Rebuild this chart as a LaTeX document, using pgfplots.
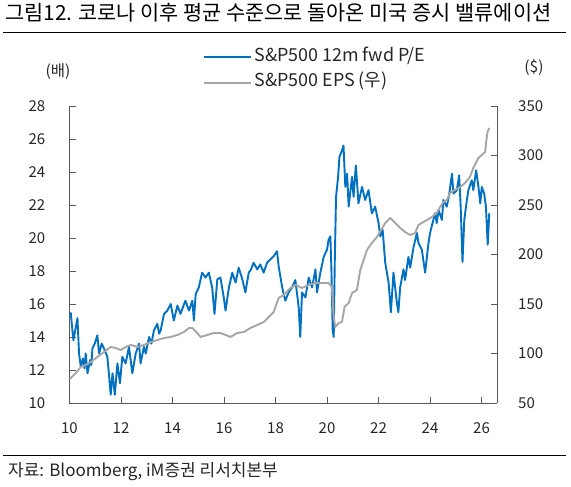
\documentclass[border=0pt]{standalone}
\usepackage{fontspec}
\setmainfont{Noto Sans CJK KR}
\usepackage{pgfplots}
\pgfplotsset{compat=1.18}
\definecolor{peblue}{HTML}{0070C0}
\definecolor{epsgray}{HTML}{A6A6A6}
\definecolor{axgray}{HTML}{595959}
\definecolor{labgray}{HTML}{262626}
\pgfplotsset{
  common/.style={
    at={(69.5pt,84pt)}, anchor=south west, scale only axis,
    width=427.5pt, height=297pt,
    xmin=10, xmax=26.6,
    tick align=inside, major tick length=6pt,
    axis line style={axgray, line width=0.9pt},
    major tick style={axgray, line width=0.9pt},
    every tick label/.append style={font=\fontsize{15}{18}\selectfont, text=labgray},
    /pgf/number format/assume math mode=true,
    clip=false,
  }
}
\begin{document}
\begin{tikzpicture}
\path[use as bounding box] (0pt,0pt) rectangle (571pt,487pt);
\node[anchor=west, inner sep=0pt, font=\fontsize{20.8}{24}\selectfont] at (5pt,474pt) {그림12. 코로나 이후 평균 수준으로 돌아온 미국 증시 밸류에이션};
\draw[line width=1pt] (3pt,454pt) -- (566pt,454pt);
\draw[line width=1pt] (3pt,31pt) -- (566pt,31pt);
\node[anchor=west, inner sep=0pt, font=\fontsize{17}{20}\selectfont, text=labgray] at (8pt,15pt) {자료: Bloomberg, iM증권 리서치본부};
\node[inner sep=0pt, font=\fontsize{15.5}{18}\selectfont, text=labgray] at (58pt,415.3pt) {(배)};
\node[inner sep=0pt, font=\fontsize{15.5}{18}\selectfont, text=labgray] at (534pt,419pt) {(\$)};

\begin{axis}[common,
  ymin=10, ymax=28,
  axis y line*=left, axis x line*=bottom,
  xtick={10,12,...,26}, ytick={10,12,...,28},
  xticklabel style={inner sep=0pt, anchor=north, yshift=-19.5pt},
  yticklabel style={inner sep=0pt, anchor=east, xshift=-24pt},
]
\addplot[peblue, line width=1.9pt, line join=round] coordinates {
(10.02,15.3) (10.05,15.45) (10.10,14.6) (10.15,13.8) (10.22,14.4) (10.31,15.15) (10.37,13.0) (10.44,12.2) (10.52,12.7) (10.58,12.1) (10.63,13.0) (10.70,11.8) (10.80,12.6)
(10.85,12.3) (10.89,13.3) (10.98,13.6) (11.08,14.1) (11.15,13.0) (11.25,13.6) (11.34,13.3) (11.47,12.8) (11.54,11.6) (11.6,10.5) (11.67,11.8) (11.76,10.5)
(11.86,12.4) (11.96,11.2) (12.05,12.8) (12.18,12.4) (12.31,13.4) (12.44,11.8) (12.57,13.0) (12.70,13.6) (12.76,12.4) (12.89,13.4)
(12.96,13.0) (13.09,14.0) (13.18,13.6) (13.28,14.4) (13.41,14.8) (13.48,14.2) (13.54,14.4) (13.67,15.4) (13.8,15.6) (13.93,16.0) (14.05,15.0) (14.19,15.9)
(14.31,15.4) (14.5,16.2) (14.64,15.6) (14.77,16.2) (14.83,15.0) (14.9,16.6) (15.02,17.0) (15.15,17.9) (15.28,17.6) (15.41,17.9)
(15.54,17.0) (15.63,15.4) (15.74,17.5) (15.86,17.6) (15.99,16.4) (16.06,15.6) (16.19,17.0) (16.32,17.9) (16.45,17.3) (16.57,18.2)
(16.71,17.5) (16.83,16.7) (16.96,17.9) (17.05,18.1) (17.15,18.5) (17.29,18.1) (17.41,18.4) (17.54,17.9) (17.67,18.5) (17.8,18.7)
(17.93,18.9) (18.06,19.2) (18.12,18.3) (18.26,17.0) (18.38,16.2) (18.51,16.7) (18.64,17.0) (18.77,17.45) (18.9,15.8) (18.96,14.0)
(19.03,16.7) (19.16,16.4) (19.29,17.6) (19.42,17.0) (19.55,18.1) (19.61,16.7) (19.74,17.9) (19.87,18.85) (20.0,19.3) (20.06,19.9)
(20.13,20.1) (20.17,18.1) (20.22,14.4) (20.26,14.0) (20.3,18.5) (20.35,22.5) (20.43,23.7) (20.48,24.9) (20.58,25.3) (20.64,25.6)
(20.71,23.1) (20.78,23.9) (20.84,21.9) (20.97,23.7) (21.03,22.5) (21.12,24.4) (21.22,22.1) (21.36,23.1) (21.48,22.3) (21.61,22.9)
(21.74,21.5) (21.87,21.9) (22.0,20.9) (22.07,20.1) (22.16,20.5) (22.26,18.5) (22.39,17.3) (22.48,15.5) (22.58,17.9) (22.71,16.1)
(22.77,15.5) (22.84,17.0) (22.97,18.1) (23.03,17.45) (23.16,18.85) (23.23,18.2) (23.36,19.45) (23.49,20.3) (23.55,19.7) (23.68,19.3)
(23.81,17.9) (23.94,19.7) (24.0,20.3) (24.13,21.1) (24.2,21.5) (24.26,20.9) (24.33,21.7) (24.46,21.1) (24.52,22.3) (24.65,21.9)
(24.75,22.7) (24.85,23.9) (24.91,22.7) (25.04,22.9) (25.13,23.8) (25.19,21.9) (25.26,18.55) (25.33,21.1) (25.43,22.3) (25.49,22.9)
(25.62,23.5) (25.68,22.9) (25.79,24.1) (25.88,23.1) (25.95,22.1) (26.01,23.1) (26.1,22.7) (26.17,21.9) (26.24,19.6) (26.3,21.5)
};
\end{axis}

\begin{axis}[common,
  ymin=50, ymax=350,
  axis y line*=right, axis x line=none,
  ytick={50,100,...,350},
  yticklabel style={inner sep=0pt, anchor=west, xshift=21pt},
  legend style={draw=none, fill=none, at={(0.3116,1.1212)}, anchor=west,
    font=\fontsize{17.9}{20}\selectfont, text=labgray, inner sep=0pt, row sep=9.4pt,
    nodes={inner sep=0pt, text height=12pt, text depth=4pt},
    /tikz/every odd column/.style={column sep=3pt}},
  legend cell align=left,
  legend image code/.code={\draw[#1] (0pt,0pt) -- (46.6pt,0pt);},
]
\addlegendimage{peblue, line width=2pt}
\addlegendentry{S\&P500 12m fwd P/E}
\addplot[epsgray, line width=1.9pt, line join=round] coordinates {
(10.02,74) (10.05,75.3) (10.24,80) (10.44,86.4) (10.63,88.4) (10.83,91.4) (11.08,96.5) (11.34,101.5) (11.6,106.6) (11.79,105.6)
(11.99,103.5) (12.18,106.6) (12.38,108.6) (12.64,106.6) (12.89,108.6) (13.15,111.6) (13.41,113.6) (13.67,115.6) (13.93,116.7)
(14.19,118.7) (14.44,121.7) (14.64,125.8) (14.77,125.8) (14.96,120.7) (15.09,116.7) (15.35,118.7) (15.6,120.7) (15.86,120.7)
(16.06,118.7) (16.25,116.7) (16.51,120.7) (16.77,121.7) (17.03,125.8) (17.29,128.8) (17.54,131.8) (17.74,136.9) (17.93,141.9)
(18.12,156.1) (18.32,159.1) (18.58,166.2) (18.77,169.2) (19.03,166.2) (19.29,169.2) (19.55,171.2) (19.81,171.2) (20.06,171.2)
(20.19,167.2) (20.26,136.9) (20.32,126.8) (20.45,130.8) (20.58,131.8) (20.68,147) (20.84,151) (20.97,161.1) (21.16,164.1)
(21.29,184.3) (21.42,194.4) (21.55,204.5) (21.74,211.6) (21.94,217.7) (22.1,224.7) (22.26,231.8) (22.45,236.9) (22.65,231.8)
(22.84,226.8) (23.03,222.7) (23.23,219.7) (23.42,221.7) (23.55,229.8) (23.74,232.8) (23.88,234.8) (24.07,237.9) (24.26,241.9)
(24.39,248) (24.52,253) (24.65,255) (24.78,262.1) (24.97,265.2) (25.17,268.2) (25.36,272.2) (25.55,278.3) (25.68,287.4)
(25.88,297.5) (26.01,300.5) (26.14,303.5) (26.18,313.6) (26.23,323.7) (26.3,327.8)
};
\addlegendentry{S\&P500 EPS (우)}
\end{axis}
\end{tikzpicture}
\end{document}
